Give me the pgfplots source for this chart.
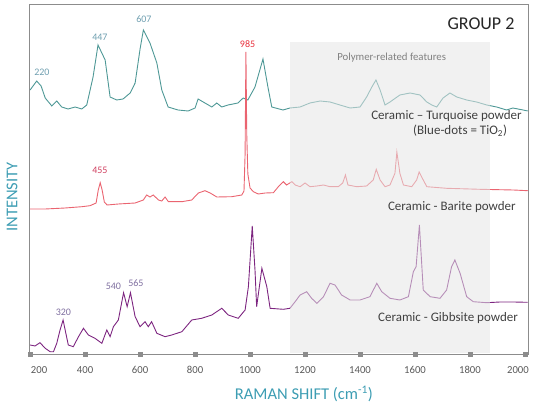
\documentclass[border=0pt]{standalone}
\usepackage{pgfplots}
\pgfplotsset{compat=1.18}
\usepackage{fontspec}
\setmainfont{Carlito}
\definecolor{turq}{HTML}{4E9896}
\definecolor{barite}{HTML}{EA6470}
\definecolor{gibb}{HTML}{7D2580}
\definecolor{framegray}{HTML}{8C8C8C}
\definecolor{tickgray}{HTML}{595959}
\definecolor{axisteal}{HTML}{3D9DB3}
\definecolor{shadecol}{HTML}{E6E6E6}
\definecolor{lblturq}{HTML}{6F9FB0}
\definecolor{lblred}{HTML}{E8303C}
\definecolor{lblpink}{HTML}{D04060}
\definecolor{lblpurp}{HTML}{8070A0}
\begin{document}
\begin{tikzpicture}
\useasboundingbox (0,0) rectangle (543pt,407pt);
\begin{axis}[
  at={(29pt,53pt)}, anchor=south west,
  width=499pt, height=350pt, scale only axis,
  xmin=196, xmax=2011, ymin=0, ymax=350,
  axis line style={draw=framegray, line width=0.9pt},
  xtick={200,400,...,2000}, ytick=\empty,
  xticklabels={\hspace*{18pt}200,400,600,800,1000,1200,1400,1600,1800,2000\hspace*{14pt}},
  major tick length=0pt,
  xticklabel style={font=\fontsize{10.7}{12}\selectfont, text=tickgray, yshift=-9pt},
  clip=false,
]
% Turquoise
\addplot[turq, line width=0.9pt] coordinates {
(200,264)(224,273)(240,268)(255,256)(279,248)(297,253)(315,247)(338,245)(364,247)(388,245)(406,249)(429,277)(447,309)(473,294)(491,257)(515,254)(538,255)(564,261)(582,271)(600,305)(612,324)(636,311)(661,291)(679,264)(702,247)(738,244)(775,243)(800,246)(811,255)(836,251)(861,247)(879,251)(897,247)(920,249)(956,251)(975,256)(992,254)(1018,267)(1047,295)(1065,267)(1079,247)(1120,244)(1145,246)(1182,247)(1218,251)(1255,253)(1291,252)(1327,249)(1364,246)(1400,247)(1424,257)(1443,267)(1458,274)(1473,264)(1491,249)(1509,252)(1545,259)(1582,261)(1618,259)(1643,252)(1661,249)(1679,247)(1702,256)(1727,261)(1752,257)(1788,254)(1824,252)(1861,249)(1897,247)(1933,244)(1956,246)(1993,244)(2010,243)
};
% Barite
\addplot[barite, line width=0.9pt] coordinates {
(200,145)(255,145)(327,146)(388,147.3)(418,148.3)(440,151)(448,164)(455,171.3)(462,164)(470,152)(480,149)(521,150)(582,151)(612,154)(624,159)(636,157)(648,159)(667,154)(679,153)(691,157)(703,152.3)(752,152.3)(788,154)(812,161)(836,163.3)(855,161)(879,157)(933,157.3)(970,159)(978,163)(982,200)(985,302)(988,220)(992,180)(1000,166)(1012,162.3)(1030,160)(1055,161)(1085,161.3)(1103,167.3)(1121,172.3)(1133,169)(1152,172.3)(1164,169)(1182,167.3)(1200,171)(1218,167.3)(1243,168)(1267,169)(1291,167.3)(1321,167.3)(1337,171)(1347,179)(1356,169)(1388,167.3)(1424,168)(1448,174)(1459,184.7)(1473,174)(1491,167.3)(1509,169)(1527,180.7)(1534,202)(1545,180.7)(1558,169)(1588,167.3)(1606,174)(1615,182)(1630,174)(1643,167.3)(1715,165.7)(1836,164.7)(1958,164)(2010,163.3)
};
% Gibbsite
\addplot[gibb, line width=0.9pt] coordinates {
(200,9)(218,8)(236,11.3)(255,5.7)(273,2.3)(285,2.3)(297,10.7)(309,24)(320,34)(330,20.7)(339,9)(357,7.3)(376,17.3)(394,25.7)(412,19)(436,15.7)(461,10.7)(479,24)(491,17.3)(503,27.3)(521,34)(540,61.3)(553,47.3)(565,61.3)(582,37.3)(600,27.3)(618,32.3)(630,27.3)(642,32.3)(661,20.7)(691,17.3)(715,19)(752,22.3)(788,34)(824,35.7)(861,39)(897,45.7)(921,39)(957,35.7)(982,44)(994,67.3)(1008,128)(1018,84)(1024,47.3)(1043,85.7)(1061,67.3)(1073,45.7)(1121,44.7)(1145,45.7)(1164,52.3)(1182,59)(1206,62.3)(1224,55.7)(1243,50.7)(1267,57.3)(1291,70.7)(1309,69)(1333,59)(1364,54)(1400,54)(1436,57.3)(1461,70.7)(1479,62.3)(1509,55.7)(1545,54)(1576,57.3)(1594,82.3)(1604,87.3)(1616,129)(1630,64)(1655,57.3)(1691,55.7)(1715,64)(1733,87.3)(1745,94)(1764,80.7)(1788,57.3)(1812,52.3)(1861,51.3)(1909,52)(1958,52)(2010,51.7)
};
% shaded overlay
\fill[fill=shadecol, fill opacity=0.55] (axis cs:1145,1) rectangle (axis cs:1873,312);
% tick markers
\addplot[only marks, mark=square*, mark size=1.8pt, color=framegray] coordinates {
(200,0)(400,0)(600,0)(800,0)(1000,0)(1200,0)(1400,0)(1600,0)(1800,0)(2000,0)
};
% texts
\node[font=\fontsize{18}{20}\selectfont, text=black!85] at (axis cs:1840,330) {GROUP 2};
\node[font=\fontsize{10.8}{12}\selectfont, text=gray] at (axis cs:1515,296) {Polymer-related features};
\node[anchor=east, inner sep=0pt, font=\fontsize{13}{15}\selectfont, text=black!75] at (axis cs:1989,238) {Ceramic – Turquoise powder};
\node[font=\fontsize{13}{15}\selectfont, text=black!75] at (axis cs:1764,223) {(Blue-dots = TiO\textsubscript{2})};
\node[anchor=east, inner sep=0pt, font=\fontsize{13}{15}\selectfont, text=black!75] at (axis cs:1967,147) {Ceramic - Barite powder};
\node[anchor=east, inner sep=0pt, font=\fontsize{13}{15}\selectfont, text=black!75] at (axis cs:1975,36) {Ceramic - Gibbsite powder};
\node[font=\fontsize{10}{12}\selectfont, text=lblturq] at (axis cs:243,282) {220};
\node[font=\fontsize{10}{12}\selectfont, text=lblturq] at (axis cs:454,317) {447};
\node[font=\fontsize{10}{12}\selectfont, text=lblturq] at (axis cs:614,335) {607};
\node[font=\fontsize{10}{12}\selectfont, text=lblred] at (axis cs:991,310) {985};
\node[font=\fontsize{10}{12}\selectfont, text=lblpink] at (axis cs:454,184) {455};
\node[font=\fontsize{10}{12}\selectfont, text=lblpurp] at (axis cs:321,42) {320};
\node[font=\fontsize{10}{12}\selectfont, text=lblpurp] at (axis cs:503,68) {540};
\node[font=\fontsize{10}{12}\selectfont, text=lblpurp] at (axis cs:585,71) {565};
\node[font=\fontsize{16.5}{18}\selectfont, text=axisteal] at (axis cs:1196,-40) {RAMAN SHIFT (cm\textsuperscript{-1})};
\node[rotate=90, font=\fontsize{16.5}{18}\selectfont, text=axisteal] at (axis cs:134.5,157) {INTENSITY};
\end{axis}
\end{tikzpicture}
\end{document}
